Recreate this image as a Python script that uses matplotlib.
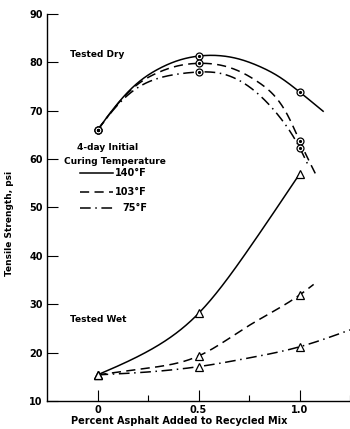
import numpy as np
import matplotlib
matplotlib.use("Agg")
import matplotlib.pyplot as plt

# ---- data ----
asphalt = [0.0, 0.5, 1.0]
temps = ["140°F", "103°F", "75°F"]

dry_140 = [66, 81.3, 73.9]
dry_103 = [66, 79.8, 63.8]
dry_75 = [66, 78.0, 62.4]
wet_140 = [15.4, 28.1, 56.9]
wet_103 = [15.4, 19.3, 31.9]
wet_75 = [15.4, 17.1, 21.2]

# traced points along each drawn curve (x, y)
dry_140_x = [0.0, 0.1, 0.2, 0.3, 0.4, 0.5, 0.6, 0.7, 0.8, 0.9, 1.0, 1.117]
dry_140_y = [66, 71.5, 75.8, 78.6, 80.4, 81.3, 81.4, 80.7, 79.2, 77.0, 73.9, 69.9]
dry_103_x = [0.0, 0.1, 0.2, 0.3, 0.4, 0.5, 0.6, 0.7, 0.8, 0.88, 0.946, 1.0, 1.087]
dry_103_y = [66, 71.4, 75.5, 77.9, 79.3, 79.8, 79.5, 78.2, 75.8, 72.9, 68.7, 63.8, 56.3]
dry_75_x = [0.0, 0.1, 0.2, 0.3, 0.4, 0.5, 0.6, 0.7, 0.8, 0.9, 1.0, 1.04]
dry_75_y = [66, 71.2, 74.8, 76.7, 77.6, 78.0, 77.8, 76.3, 73.3, 68.8, 62.4, 59.0]
wet_140_x = [0.0, 0.25, 0.5, 0.75, 1.0]
wet_140_y = [15.4, 20.3, 28.1, 41.5, 56.9]
wet_103_x = [0.0, 0.25, 0.5, 0.75, 1.0, 1.07]
wet_103_y = [15.4, 16.8, 19.3, 25.6, 31.9, 34.1]
wet_75_x = [0.0, 0.25, 0.5, 0.75, 1.0, 1.25]
wet_75_y = [15.4, 16.0, 17.1, 18.9, 21.2, 24.7]

x_ticks = [0, 0.5, 1.0]
x_ticklabels = ["0", "0.5", "1.0"]
y_ticks = [10, 20, 30, 40, 50, 60, 70, 80, 90]


def spline(xs, ys, n=400):
    """Natural cubic spline through the traced points (drawing only)."""
    x = np.asarray(xs, float)
    y = np.asarray(ys, float)
    N = len(x)
    h = np.diff(x)
    A = np.zeros((N, N))
    b = np.zeros(N)
    A[0, 0] = A[-1, -1] = 1
    for i in range(1, N - 1):
        A[i, i - 1] = h[i - 1]
        A[i, i] = 2 * (h[i - 1] + h[i])
        A[i, i + 1] = h[i]
        b[i] = 6 * ((y[i + 1] - y[i]) / h[i] - (y[i] - y[i - 1]) / h[i - 1])
    M = np.linalg.solve(A, b)
    xx = np.linspace(x[0], x[-1], n)
    idx = np.clip(np.searchsorted(x, xx) - 1, 0, N - 2)
    x0, x1 = x[idx], x[idx + 1]
    hh = h[idx]
    yy = (M[idx] * (x1 - xx) ** 3 / (6 * hh) + M[idx + 1] * (xx - x0) ** 3 / (6 * hh)
          + (y[idx] / hh - M[idx] * hh / 6) * (x1 - xx)
          + (y[idx + 1] / hh - M[idx + 1] * hh / 6) * (xx - x0))
    return xx, yy


plt.rcParams['font.family'] = ['DejaVu Sans']
fig = plt.figure(figsize=(3.5, 4.29), dpi=100)
ax = fig.add_axes([47 / 350, 1 - 401 / 429, 1 - 47 / 350, (401 - 14) / 429])

styles = {
    "140°F": dict(linestyle='-'),
    "103°F": dict(linestyle=(0, (6, 3.5))),
    "75°F": dict(linestyle=(0, (7, 3, 1, 3))),
}
lw = 1.1
curves = [
    (dry_140_x, dry_140_y, "140°F"), (dry_103_x, dry_103_y, "103°F"), (dry_75_x, dry_75_y, "75°F"),
    (wet_140_x, wet_140_y, "140°F"), (wet_103_x, wet_103_y, "103°F"), (wet_75_x, wet_75_y, "75°F"),
]
for xs, ys, t in curves:
    sx, sy = spline(xs, ys)
    ax.plot(sx, sy, color='black', lw=lw, **styles[t], zorder=2, clip_on=False)

for ys in (dry_140, dry_103, dry_75):
    ax.plot(asphalt, ys, 'o', ms=5, mfc='white', mec='black', mew=0.9, zorder=3)
    ax.plot(asphalt, ys, 'o', ms=1.3, color='black', zorder=4)
for ys in (wet_140, wet_103, wet_75):
    ax.plot(asphalt, ys, '^', ms=5.5, mfc='white', mec='black', mew=0.9, zorder=3)

ax.set_xlim(-0.25, 1.25)
ax.set_ylim(10, 90)
ax.set_xticks(x_ticks)
ax.set_xticklabels(x_ticklabels)
ax.set_xticks([0.25, 0.75, 1.25], minor=True)
ax.set_yticks(y_ticks)
for s in ('top', 'right'):
    ax.spines[s].set_visible(False)
for s in ('left', 'bottom'):
    ax.spines[s].set_linewidth(1.0)
ax.tick_params(axis='both', which='major', direction='in', length=8, width=0.8,
               labelsize=7, pad=3)
ax.tick_params(axis='x', which='minor', direction='in', length=4, width=0.8)
for lab in ax.get_xticklabels() + ax.get_yticklabels():
    lab.set_fontweight('bold')

tf = dict(fontsize=6.5, fontweight='bold', color='black')
ax.text(-0.137, 81.7, "Tested Dry", ha='left', va='center', **tf)
ax.text(-0.137, 26.8, "Tested Wet", ha='left', va='center', **tf)
ax.text(0.048, 62.4, "4-day Initial", ha='center', va='center', **tf)
ax.text(0.086, 59.6, "Curing Temperature", ha='center', va='center', **tf)
leg_y = [57.1, 53.3, 49.8]
for t, yy in zip(temps, leg_y):
    ax.plot([-0.085, 0.076], [yy, yy], color='black', lw=lw, **styles[t])
    ax.text(0.245, yy, t, ha='right', va='center', fontsize=7, fontweight='bold')

fig.text(10 / 350, 1 - 223 / 429, "Tensile Strength, psi", rotation=90,
         ha='center', va='center', fontsize=6.5, fontweight='bold')
fig.text(179 / 350, 1 - 421 / 429, "Percent Asphalt Added to Recycled Mix",
         ha='center', va='center', fontsize=7, fontweight='bold')

fig.savefig("out.png", dpi=100)
